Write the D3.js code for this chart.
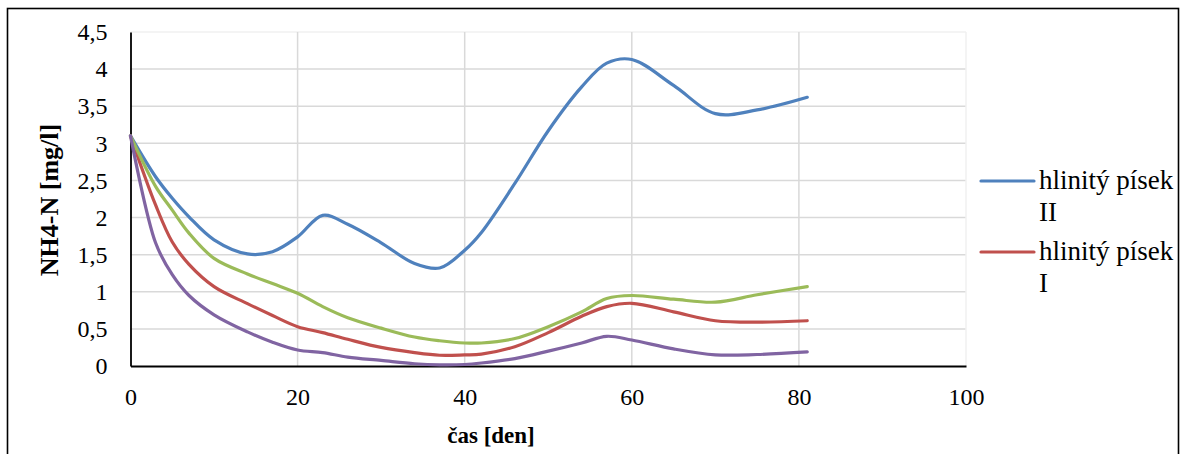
<!DOCTYPE html>
<html><head><meta charset="utf-8">
<script src="https://cdn.jsdelivr.net/npm/d3@7"></script>
<style>body{margin:0;background:#fff}</style>
</head><body><svg id="c" width="1181" height="454" style="font-family:'Liberation Serif',Tinos,'Times New Roman',serif"></svg>
<script>
const days = [0,3,5,7,10,14,17,20,23,26,30,34,37,40,42,46,50,54,57,60,65,70,75,81];
const seriesNames = ["hlinitý písek II","hlinitý písek I","series3","series4"];
const blueII  = [3.1,2.55,2.26,2.01,1.70,1.51,1.54,1.74,2.03,1.91,1.66,1.38,1.32,1.56,1.80,2.46,3.17,3.76,4.08,4.13,3.78,3.40,3.45,3.62];
const redI    = [3.1,2.17,1.67,1.37,1.07,0.84,0.68,0.53,0.45,0.36,0.25,0.18,0.145,0.15,0.16,0.26,0.45,0.67,0.80,0.845,0.73,0.61,0.59,0.61];
const green   = [3.1,2.42,2.10,1.79,1.45,1.24,1.11,0.98,0.80,0.65,0.51,0.39,0.34,0.31,0.31,0.37,0.53,0.73,0.91,0.95,0.90,0.86,0.96,1.07];
const purple  = [3.1,1.66,1.23,0.95,0.69,0.46,0.32,0.215,0.18,0.12,0.075,0.03,0.015,0.02,0.04,0.10,0.20,0.31,0.40,0.35,0.23,0.15,0.155,0.19];
const xTicks = [0,20,40,60,80,100];
const yTicks = [0,0.5,1,1.5,2,2.5,3,3.5,4,4.5];
const legendLabels = [["hlinitý písek","II"],["hlinitý písek","I"]];
const colors = ["#4F81BD","#C0504D","#9BBB59","#8064A2"];
const FONT = "'Liberation Serif', Tinos, 'Times New Roman', serif";

const svg = d3.select("#c");
const x = d3.scaleLinear().domain([0,100]).range([130.5,966]);
const y = d3.scaleLinear().domain([0,4.5]).range([366,32]);
const fmt = v => String(v).replace(".", ",");

svg.append("rect").attr("x",7.5).attr("y",8.5).attr("width",1171).attr("height",470)
  .attr("fill","none").attr("stroke","#000").attr("stroke-width",1.6);

svg.append("g").selectAll("line").data(yTicks.filter(t=>t>0)).join("line")
  .attr("x1",x(0)).attr("x2",x(100)).attr("y1",d=>y(d)).attr("y2",d=>y(d))
  .attr("stroke",d=>d===4.5?"#f0f0f0":"#d9d9d9").attr("stroke-width",1.5);
svg.append("g").selectAll("line").data(xTicks.filter(t=>t>0)).join("line")
  .attr("x1",d=>x(d)).attr("x2",d=>x(d)).attr("y1",y(0)).attr("y2",y(4.5))
  .attr("stroke",d=>d===100?"#f0f0f0":"#d9d9d9").attr("stroke-width",1.5);

const xAxis = d3.axisBottom(x).tickValues(xTicks).tickSize(0).tickPadding(0).tickFormat(fmt);
const gx = svg.append("g").attr("transform",`translate(0,${y(0)})`).call(xAxis);
gx.attr("font-family",FONT).attr("font-size",24);
gx.select(".domain").attr("stroke","#000").attr("stroke-width",1.8);
gx.selectAll("text").attr("y",39).attr("dy",null).attr("font-family",FONT)
  .style("font-family",FONT).style("font-size","24px").attr("fill","#000");

const yAxis = d3.axisLeft(y).tickValues(yTicks).tickSize(0).tickPadding(23).tickFormat(fmt);
const gy = svg.append("g").attr("transform",`translate(${x(0)},0)`).call(yAxis);
gy.attr("font-family",FONT).attr("font-size",24);
gy.select(".domain").attr("stroke","#000").attr("stroke-width",1.8);
gy.selectAll("text").attr("font-family",FONT).style("font-family",FONT).style("font-size","24px").attr("fill","#000");

const line = d3.line().x((d,i)=>x(days[i])).y(d=>y(d)).curve(d3.curveCatmullRom.alpha(0.5));
[blueII, redI, green, purple].forEach((s,i)=>{
  svg.append("path").attr("d",line(s)).attr("fill","none")
    .attr("stroke",colors[i]).attr("stroke-width",3.2).attr("stroke-linejoin","round").attr("stroke-linecap","round");
});

svg.append("text").attr("transform","translate(58,200) rotate(-90)").attr("text-anchor","middle")
  .attr("font-family",FONT).style("font-family",FONT).style("font-weight","bold").style("font-size","26px").text("NH4-N [mg/l]");
svg.append("text").attr("x",491).attr("y",443).attr("text-anchor","middle")
  .attr("font-family",FONT).style("font-family",FONT).style("font-weight","bold").style("font-size","23px").text("čas [den]");

const lg = svg.append("g");
legendLabels.forEach((lab,i)=>{
  const ly = 181 + i*71;
  lg.append("line").attr("x1",981).attr("x2",1034).attr("y1",ly).attr("y2",ly)
    .attr("stroke",colors[i]).attr("stroke-width",3.2).attr("stroke-linecap","round");
  const t = lg.append("text").attr("font-family",FONT).style("font-family",FONT).style("font-size","27px");
  t.append("tspan").attr("x",1039).attr("y",ly+8).text(lab[0]);
  t.append("tspan").attr("x",1039).attr("y",ly+40).text(lab[1]);
});
</script></body></html>
